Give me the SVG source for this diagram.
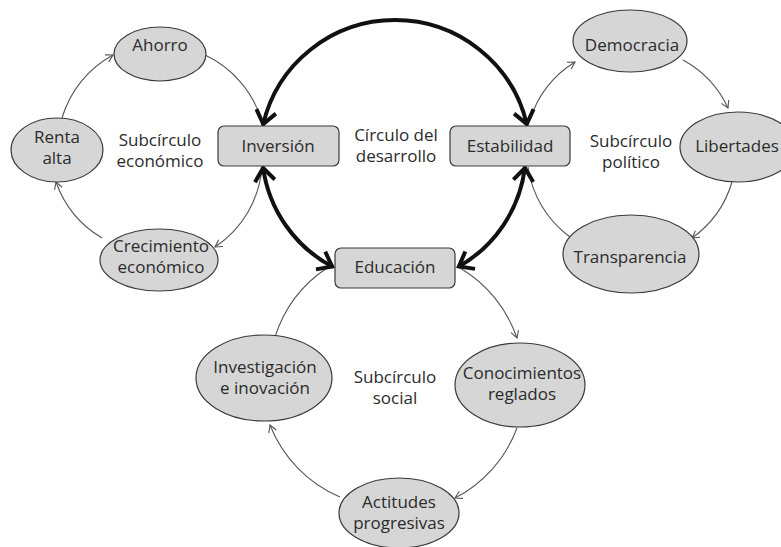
<svg xmlns="http://www.w3.org/2000/svg" width="781" height="547" viewBox="0 0 781 547">
<style>
.n{fill:#d6d6d6;stroke:#3a3a3a;stroke-width:1.2}
.t{font-family:"Open Sans","Noto Sans","Liberation Sans",sans-serif;font-size:17px;fill:#2b2b2b;text-anchor:middle}
.thin{fill:none;stroke:#555;stroke-width:1.1}
.thick{fill:none;stroke:#111;stroke-width:4}
</style>
<defs>
<marker id="ta" viewBox="-9 -6 11 12" markerWidth="11" markerHeight="12" refX="0" refY="0" orient="auto" markerUnits="userSpaceOnUse">
<path d="M-7,-4 L0,0 L-7,4" fill="none" stroke="#555" stroke-width="1.1"/>
</marker>
<marker id="ka" viewBox="-17 -12 19 24" markerWidth="19" markerHeight="24" refX="0" refY="0" orient="auto-start-reverse" markerUnits="userSpaceOnUse">
<path d="M-14,-10 L-1,0 L-14,10" fill="none" stroke="#111" stroke-width="4"/>
</marker>
</defs>
<rect width="781" height="547" fill="#fff"/>
<g id="connectors">
<path class="thin" d="M62,118 A106,106 0 0 1 113,55" marker-end="url(#ta)"/>
<path class="thin" d="M205,55 A106,106 0 0 1 262,122"/>
<path class="thin" d="M262,167 A106,106 0 0 1 215,247" marker-end="url(#ta)"/>
<path class="thin" d="M102,238 A106,106 0 0 1 56,182" marker-end="url(#ta)"/>
<path class="thin" d="M530,120 A105,105 0 0 1 575,62" marker-end="url(#ta)"/>
<path class="thin" d="M683,60 A105,105 0 0 1 728,108" marker-end="url(#ta)"/>
<path class="thin" d="M732,182 A105,105 0 0 1 692,238" marker-end="url(#ta)"/>
<path class="thin" d="M570,237 A105,105 0 0 1 528,167"/>
<path class="thin" d="M460,268 A130,130 0 0 1 517,338" marker-end="url(#ta)"/>
<path class="thin" d="M517,428 A130,130 0 0 1 455,498" marker-end="url(#ta)"/>
<path class="thin" d="M340,497 A130,130 0 0 1 270,425" marker-end="url(#ta)"/>
<path class="thin" d="M275,337 A130,130 0 0 1 327,268"/>
<path class="thick" d="M263,125 A135.5,135.5 0 0 1 527,125" marker-start="url(#ka)" marker-end="url(#ka)"/>
<path class="thick" d="M263,167 A133,133 0 0 0 333,267" marker-start="url(#ka)" marker-end="url(#ka)"/>
<path class="thick" d="M525,167 A133,133 0 0 1 458,267" marker-start="url(#ka)" marker-end="url(#ka)"/>
</g>
<g id="ahorro"><ellipse class="n" cx="160" cy="54" rx="46" ry="27"/><text class="t" x="160" y="51">Ahorro</text></g>
<g id="renta"><ellipse class="n" cx="57" cy="150" rx="46" ry="32"/><text class="t" x="57" y="143">Renta</text><text class="t" x="57" y="164">alta</text></g>
<g id="crecimiento"><ellipse class="n" cx="159" cy="260" rx="59" ry="31"/><text class="t" x="161" y="252">Crecimiento</text><text class="t" x="161" y="273">económico</text></g>
<g id="inversion"><rect class="n" x="218" y="126" width="121" height="40" rx="6"/><text class="t" x="278" y="152">Inversión</text></g>
<g id="estabilidad"><rect class="n" x="450" y="126" width="120" height="40" rx="6"/><text class="t" x="510" y="152">Estabilidad</text></g>
<g id="educacion"><rect class="n" x="335" y="248" width="120" height="40" rx="6"/><text class="t" x="395" y="273">Educación</text></g>
<g id="democracia"><ellipse class="n" cx="630" cy="41" rx="57" ry="31"/><text class="t" x="632" y="51">Democracia</text></g>
<g id="libertades"><ellipse class="n" cx="738" cy="147" rx="58" ry="35"/><text class="t" x="737" y="152">Libertades</text></g>
<g id="transparencia"><ellipse class="n" cx="631" cy="254" rx="68" ry="39"/><text class="t" x="630" y="263">Transparencia</text></g>
<g id="investigacion"><ellipse class="n" cx="264" cy="378" rx="68" ry="43"/><text class="t" x="265" y="373">Investigación</text><text class="t" x="265" y="394">e inovación</text></g>
<g id="conocimientos"><ellipse class="n" cx="520" cy="385" rx="65" ry="42"/><text class="t" x="522" y="379">Conocimientos</text><text class="t" x="522" y="400">reglados</text></g>
<g id="actitudes"><ellipse class="n" cx="399" cy="513" rx="60" ry="35"/><text class="t" x="399" y="508">Actitudes</text><text class="t" x="399" y="529">progresivas</text></g>
<g id="labels">
<text class="t" x="160" y="146">Subcírculo</text><text class="t" x="160" y="167">económico</text>
<text class="t" x="396" y="141">Círculo del</text><text class="t" x="396" y="162">desarrollo</text>
<text class="t" x="631" y="147">Subcírculo</text><text class="t" x="631" y="168">político</text>
<text class="t" x="395" y="383">Subcírculo</text><text class="t" x="395" y="404">social</text>
</g>
</svg>
